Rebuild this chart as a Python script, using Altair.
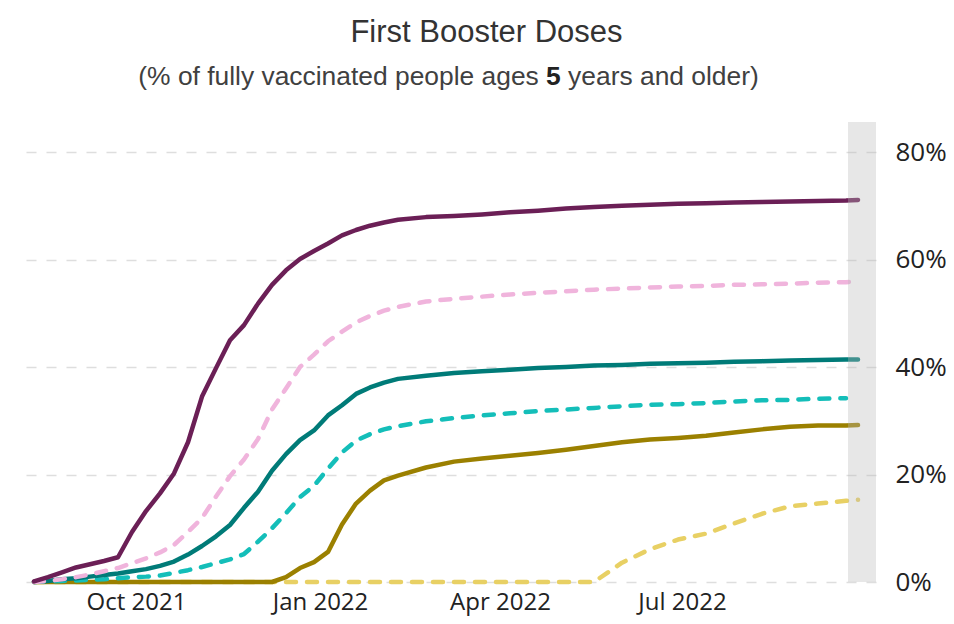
import altair as alt
import pandas as pd

# ---------------- text ----------------
title_text = "First Booster Doses"
subtitle_pre = "(% of fully vaccinated people ages"
subtitle_bold = "5"
subtitle_post = "years and older)"

# ---------------- data ----------------
dates = [
    "2021-08-11", "2021-08-18", "2021-08-25", "2021-09-01", "2021-09-08", "2021-09-15",
    "2021-09-22", "2021-09-29", "2021-10-06", "2021-10-13", "2021-10-20", "2021-10-27",
    "2021-11-03", "2021-11-10", "2021-11-17", "2021-11-24", "2021-12-01", "2021-12-08",
    "2021-12-15", "2021-12-22", "2021-12-29", "2022-01-05", "2022-01-12", "2022-01-19",
    "2022-01-26", "2022-02-02", "2022-02-09", "2022-02-23", "2022-03-09", "2022-03-23",
    "2022-04-06", "2022-04-20", "2022-05-04", "2022-05-18", "2022-06-01", "2022-06-15",
    "2022-06-29", "2022-07-13", "2022-07-27", "2022-08-10", "2022-08-24", "2022-09-07",
    "2022-09-21", "2022-09-27",
]

purple_solid = [0.1, 0.9, 1.8, 2.7, 3.3, 3.9, 4.6, 9.3, 13.2, 16.5, 20.2, 26.0,
                34.5, 39.8, 45.0, 47.8, 51.8, 55.3, 58.0, 60.1, 61.6, 63.0, 64.5, 65.5,
                66.3, 66.9, 67.4, 67.9, 68.1, 68.4, 68.8, 69.1, 69.5, 69.8, 70.0, 70.2,
                70.4, 70.5, 70.6, 70.7, 70.8, 70.9, 71.0, 71.1]
pink_dashed = [0.0, 0.2, 0.5, 0.9, 1.4, 2.0, 2.6, 3.5, 4.4, 5.5, 6.9, 9.3,
               11.9, 15.9, 19.7, 22.8, 26.6, 32.1, 36.0, 40.0, 42.3, 44.8, 46.6, 48.3,
               49.5, 50.5, 51.2, 52.2, 52.7, 53.1, 53.5, 53.8, 54.1, 54.4, 54.6, 54.8,
               55.0, 55.1, 55.3, 55.4, 55.5, 55.7, 55.8, 55.9]
teal_solid = [0.0, 0.2, 0.5, 0.7, 1.0, 1.3, 1.6, 2.0, 2.4, 3.0, 3.8, 5.1,
              6.7, 8.5, 10.6, 13.8, 16.8, 20.7, 23.8, 26.4, 28.2, 31.0, 32.9, 35.0,
              36.2, 37.1, 37.8, 38.4, 38.9, 39.2, 39.5, 39.8, 40.0, 40.3, 40.4, 40.6,
              40.7, 40.8, 41.0, 41.1, 41.2, 41.3, 41.4, 41.4]
cyan_dashed = [0.0, 0.1, 0.2, 0.3, 0.4, 0.5, 0.7, 0.9, 1.0, 1.2, 1.7, 2.2,
               2.8, 3.5, 4.2, 5.2, 7.5, 10.0, 12.8, 15.8, 17.9, 21.1, 24.1, 26.3,
               27.5, 28.4, 29.0, 29.9, 30.5, 31.0, 31.4, 31.8, 32.1, 32.4, 32.7, 33.0,
               33.1, 33.3, 33.6, 33.8, 33.9, 34.1, 34.2, None]
olive_solid = [0.0, 0.0, 0.0, 0.0, 0.0, 0.0, 0.0, 0.0, 0.0, 0.0, 0.0, 0.0,
               0.0, 0.0, 0.0, 0.0, 0.0, 0.0, 0.9, 2.6, 3.7, 5.6, 10.7, 14.6,
               17.0, 18.9, 19.8, 21.3, 22.4, 23.0, 23.5, 24.0, 24.6, 25.3, 26.0, 26.5,
               26.8, 27.2, 27.8, 28.4, 28.9, 29.1, 29.1, 29.2]
yellow_dashed = [0.0, 0.0, 0.0, 0.0, 0.0, 0.0, 0.0, 0.0, 0.0, 0.0, 0.0, 0.0,
                 0.0, 0.0, 0.0, 0.0, 0.0, 0.0, 0.0, 0.0, 0.0, 0.0, 0.0, 0.0,
                 0.0, 0.0, 0.0, 0.0, 0.0, 0.0, 0.0, 0.0, 0.0, 0.0, 3.6, 6.1,
                 7.9, 9.0, 10.9, 12.7, 14.1, 14.6, 15.1, 15.3]

x_start = (2021, 8, 5)
x_end = (2022, 10, 6)
band_start = "2022-09-22"
x_tick_months = [(2021, 10), (2022, 1), (2022, 4), (2022, 7)]
y_ticks = [0, 20, 40, 60, 80]
y_max = 85.6

# (values, colour, dashed) drawn bottom to top
series = [
    (yellow_dashed, "#e8d064", True),
    (olive_solid, "#9b8000", False),
    (cyan_dashed, "#14beb9", True),
    (teal_solid, "#007b78", False),
    (pink_dashed, "#f0b4dc", True),
    (purple_solid, "#6b1f56", False),
]

# ---------------- chart ----------------
W, H = 854, 460
LABEL_FONT = "Open Sans"

x_scale = alt.Scale(domain=[alt.DateTime(year=x_start[0], month=x_start[1], date=x_start[2]),
                            alt.DateTime(year=x_end[0], month=x_end[1], date=x_end[2])])
y_scale = alt.Scale(domain=[0, y_max], nice=False)

x_axis = alt.Axis(
    values=[alt.DateTime(year=y, month=m, date=1) for (y, m) in x_tick_months],
    format="%b %Y", title=None, grid=False, domain=False, ticks=False, tickSize=0,
    labelFont=LABEL_FONT, labelFontSize=24, labelColor="#222222", labelPadding=8,
    labelFlush=False, labelOverlap=False,
)
y_axis = alt.Axis(
    orient="right", values=y_ticks, labelExpr="datum.value + '%'", title=None,
    grid=True, gridDash=[10, 10], gridColor="#dedede", gridWidth=1.5,
    domain=False, ticks=False, tickSize=0,
    labelFont=LABEL_FONT, labelFontSize=26, labelColor="#222222", labelPadding=19,
    labelBaseline="middle",
)


def to_local(d):
    return d + "T00:00:00"


layers = []
for vals, col, dashed in series:
    df = pd.DataFrame({"date": [to_local(d) for d in dates], "value": vals})
    kw = dict(color=col, strokeWidth=4.5, strokeCap="round", strokeJoin="round")
    if dashed:
        kw["strokeDash"] = [10, 11]
    layers.append(
        alt.Chart(df).mark_line(**kw).encode(
            x=alt.X("date:T", scale=x_scale, axis=x_axis),
            y=alt.Y("value:Q", scale=y_scale, axis=y_axis),
        )
    )

band_df = pd.DataFrame({
    "start": [to_local(band_start)],
    "end": [f"{x_end[0]:04d}-{x_end[1]:02d}-{x_end[2]:02d}T00:00:00"],
})
band = alt.Chart(band_df).mark_rect(color="#bbbbbb", opacity=0.35).encode(
    x=alt.X("start:T", scale=x_scale, axis=x_axis),
    x2="end:T",
    y=alt.value(0),
    y2=alt.value(H),
)
layers.append(band)


def text_layer(txt, x, y, size, color, align, weight="normal", font="Liberation Sans"):
    return alt.Chart(pd.DataFrame({"t": [txt]})).mark_text(
        font=font, fontSize=size, color=color, align=align, baseline="alphabetic",
        fontWeight=weight,
    ).encode(text="t:N", x=alt.value(x), y=alt.value(y))


layers.append(text_layer(title_text, 464.5, -80, 31, "#333333", "center"))
layers.append(text_layer(subtitle_pre, 516.8, -37, 26.4, "#404040", "right"))
layers.append(text_layer(subtitle_bold, 524.1, -37, 26.4, "#222222", "left", weight="bold"))
layers.append(text_layer(subtitle_post, 546.1, -37, 26.4, "#404040", "left"))

chart = alt.layer(*layers).properties(
    width=W, height=H,
    autosize=alt.AutoSizeParams(type="none"),
    padding={"left": 14, "top": 114, "right": 70, "bottom": 34},
    background="white",
).configure_view(strokeWidth=0)

chart.save("out.html", embed_options={"renderer": "svg", "actions": False})
